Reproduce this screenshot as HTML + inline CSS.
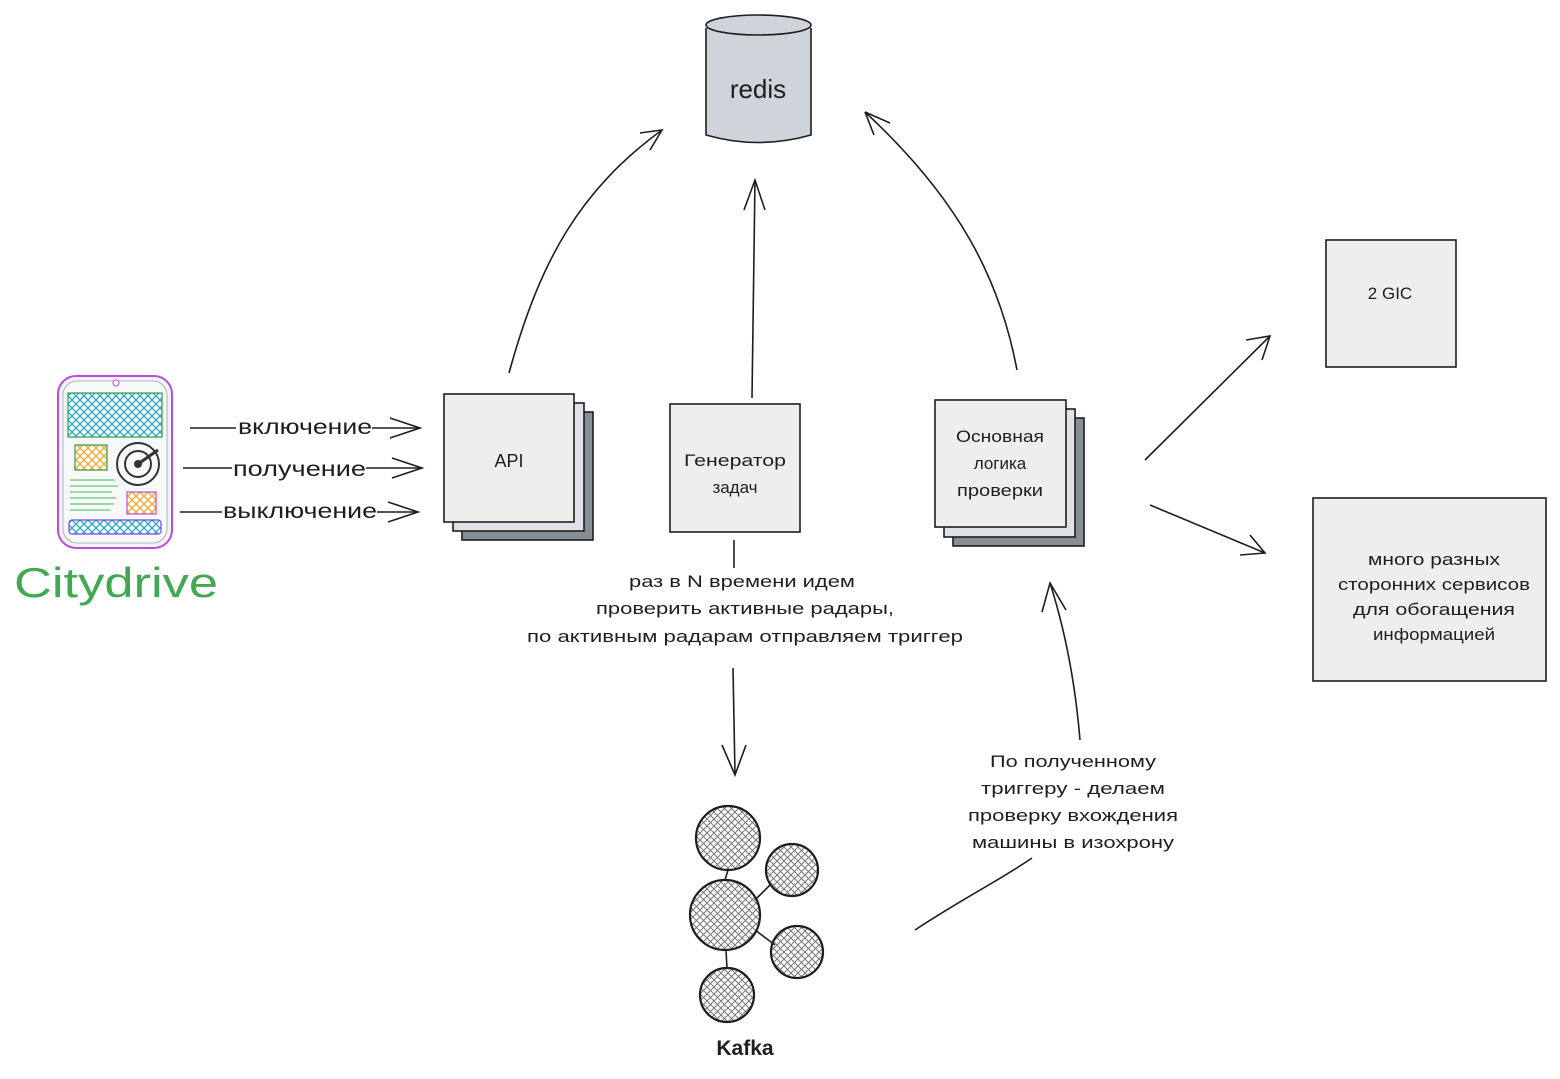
<!DOCTYPE html>
<html><head><meta charset="utf-8"><style>
body{margin:0;background:#fff;}
svg{display:block;font-family:"Liberation Sans","DejaVu Sans",sans-serif;}
</style></head><body>
<svg width="1560" height="1079" viewBox="0 0 1560 1079" xmlns="http://www.w3.org/2000/svg">
<defs>
<pattern id="hb" width="8" height="8" patternUnits="userSpaceOnUse"><path d="M0 0L8 8M8 0L0 8" stroke="#22a6c4" stroke-width="1.2"/></pattern>
<pattern id="ho" width="8" height="8" patternUnits="userSpaceOnUse"><path d="M0 0L8 8M8 0L0 8" stroke="#f5a623" stroke-width="1.2"/></pattern>
<pattern id="hg" width="7" height="7" patternUnits="userSpaceOnUse"><path d="M0 0L7 7M7 0L0 7" stroke="#777" stroke-width="1"/></pattern>
</defs>
<g fill="none" stroke="#1e1e1e" stroke-width="1.6">
<path d="M706 28 L706 135 Q758 150 811 135 L811 28" fill="#ced4da"/>
<ellipse cx="758.5" cy="25" rx="52.5" ry="10" fill="#ced4da"/>
<rect x="462" y="412" width="131" height="128" fill="#868e96"/>
<rect x="453" y="403" width="131" height="128" fill="#dee2e6"/>
<rect x="444" y="394" width="130" height="128" fill="#eeeeee"/>
<rect x="670" y="404" width="130" height="128" fill="#eeeeee"/>
<rect x="953" y="418" width="131" height="128" fill="#868e96"/>
<rect x="944" y="409" width="131" height="128" fill="#dee2e6"/>
<rect x="935" y="400" width="131" height="127" fill="#eeeeee"/>
<rect x="1326" y="240" width="130" height="127" fill="#eeeeee"/>
<rect x="1313" y="498" width="233" height="183" fill="#eeeeee"/>
<path d="M509 373 C540 260 580 190 662 130"/><path d="M640 133 L662 130 L650 150"/>
<path d="M752 398 L755 180"/><path d="M744 210 L755 180 L765 210"/>
<path d="M1017 370 C1000 280 960 200 865 112"/><path d="M865 112 L890 123 M865 112 L874 135"/>
<path d="M1145 460 L1270 336"/><path d="M1246 340 L1270 336 L1262 360"/>
<path d="M1150 505 L1265 553"/><path d="M1240 555 L1265 553 L1250 535"/>
<path d="M734 540 L734 568"/>
<path d="M733 668 L735 775"/><path d="M722 745 L735 775 L746 745"/>
<path d="M1080 740 C1075 680 1065 630 1050 583"/><path d="M1042 612 L1050 583 L1066 610"/>
<path d="M915 930 C960 900 1000 880 1032 858"/>
<path d="M190 428 L236 428 M372 428 L420 428"/><path d="M390 418 L420 428 L390 438"/>
<path d="M183 468 L232 468 M366 468 L422 468"/><path d="M392 458 L422 468 L392 478"/>
<path d="M180 512 L222 512 M377 512 L418 512"/><path d="M388 502 L418 512 L388 522"/>
<path d="M728 870 L725 880 M755 900 L770 885 M755 930 L775 945 M726 950 L727 968"/>
<circle cx="728" cy="838" r="32" fill="url(#hg)" stroke-width="2.2"/>
<circle cx="792" cy="870" r="26" fill="url(#hg)" stroke-width="2.2"/>
<circle cx="725" cy="915" r="35" fill="url(#hg)" stroke-width="2.2"/>
<circle cx="797" cy="952" r="26" fill="url(#hg)" stroke-width="2.2"/>
<circle cx="727" cy="995" r="27" fill="url(#hg)" stroke-width="2.2"/>
</g>
<g>
<rect x="58" y="376" width="114" height="172" rx="18" fill="#f1f3f5" stroke="#be4bdb" stroke-width="2"/>
<rect x="63" y="381" width="104" height="162" rx="14" fill="#f8f9fa" stroke="#adb5bd" stroke-width="1"/>
<circle cx="116" cy="383" r="3" fill="#fff" stroke="#be4bdb"/>
<rect x="68" y="393" width="94" height="44" fill="url(#hb)" stroke="#2f9e44" stroke-width="1.2"/>
<rect x="75" y="445" width="32" height="25" fill="url(#ho)" stroke="#2f9e44" stroke-width="1.2"/>
<circle cx="138" cy="464" r="21" fill="none" stroke="#333" stroke-width="2"/>
<circle cx="138" cy="464" r="13" fill="none" stroke="#333" stroke-width="2"/>
<circle cx="138" cy="464" r="4" fill="#333"/>
<path d="M138 464 L158 450" stroke="#333" stroke-width="3"/>
<rect x="127" y="492" width="29" height="22" fill="url(#ho)" stroke="#be4bdb" stroke-width="1.2"/>
<path d="M70 480h45M70 486h48M70 492h42M70 498h46M70 504h44M70 510h40" stroke="#40c057" stroke-width="1"/>
<rect x="69" y="520" width="92" height="14" rx="3" fill="url(#hb)" stroke="#7048e8" stroke-width="1.2"/>
</g>
<text x="14" y="597" font-size="42" fill="#40a952" textLength="204" lengthAdjust="spacingAndGlyphs">Citydrive</text>
<g font-size="21" fill="#1e1e1e">
<text x="238" y="434" textLength="134" lengthAdjust="spacingAndGlyphs">включение</text>
<text x="233" y="476" textLength="133" lengthAdjust="spacingAndGlyphs">получение</text>
<text x="223" y="518" textLength="154" lengthAdjust="spacingAndGlyphs">выключение</text>
</g>
<g fill="#1e1e1e" text-anchor="middle" font-size="17">
<text x="758" y="98" font-size="26">redis</text>
<text x="509" y="467" font-size="18">API</text>
<text x="735" y="466" textLength="102" lengthAdjust="spacingAndGlyphs">Генератор</text>
<text x="735" y="493">задач</text>
<text x="1000" y="442" textLength="88" lengthAdjust="spacingAndGlyphs">Основная</text>
<text x="1000" y="469">логика</text>
<text x="1000" y="496" textLength="86" lengthAdjust="spacingAndGlyphs">проверки</text>
<text x="1390" y="299">2 GIC</text>
<text x="1434" y="565" textLength="132" lengthAdjust="spacingAndGlyphs">много разных</text>
<text x="1434" y="590" textLength="192" lengthAdjust="spacingAndGlyphs">сторонних сервисов</text>
<text x="1434" y="615" textLength="162" lengthAdjust="spacingAndGlyphs">для обогащения</text>
<text x="1434" y="640" textLength="122" lengthAdjust="spacingAndGlyphs">информацией</text>
<text x="742" y="587" textLength="226" lengthAdjust="spacingAndGlyphs">раз в N времени идем</text>
<text x="745" y="614" textLength="298" lengthAdjust="spacingAndGlyphs">проверить активные радары,</text>
<text x="745" y="642" textLength="436" lengthAdjust="spacingAndGlyphs">по активным радарам отправляем триггер</text>
<text x="1073" y="767" textLength="166" lengthAdjust="spacingAndGlyphs">По полученному</text>
<text x="1073" y="794" textLength="184" lengthAdjust="spacingAndGlyphs">триггеру - делаем</text>
<text x="1073" y="821" textLength="210" lengthAdjust="spacingAndGlyphs">проверку вхождения</text>
<text x="1073" y="848" textLength="202" lengthAdjust="spacingAndGlyphs">машины в изохрону</text>
<text x="745" y="1055" font-size="21" font-weight="bold">Kafka</text>
</g>
</svg>
</body></html>
